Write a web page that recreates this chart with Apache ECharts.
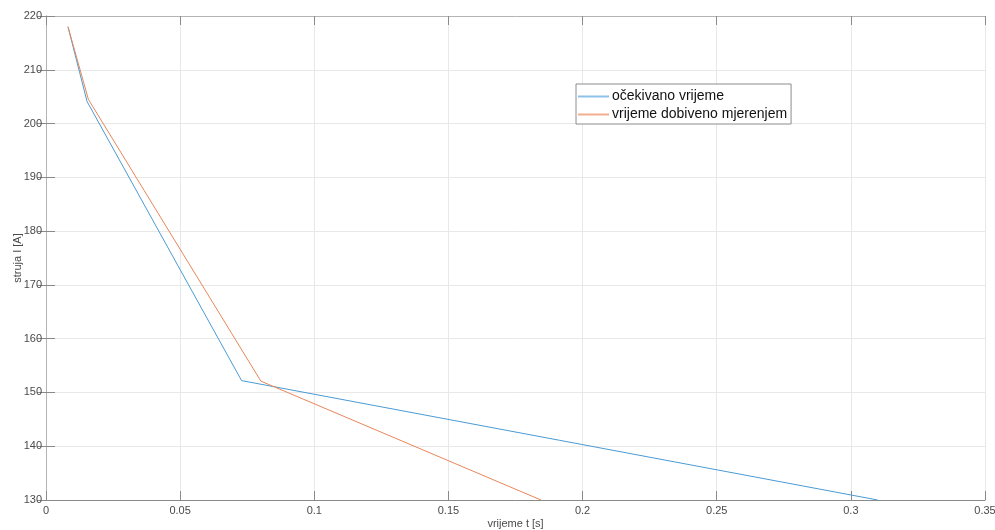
<!DOCTYPE html>
<html>
<head>
<meta charset="utf-8">
<script src="https://cdn.jsdelivr.net/npm/echarts@6/dist/echarts.min.js"></script>
<style>html,body{margin:0;padding:0;background:#fff;}#c{width:995px;height:530px;}</style>
</head>
<body>
<div id="c"></div>
<script>
const seriesNames = ['očekivano vrijeme', 'vrijeme dobiveno mjerenjem'];
const expectedT = [0.0082, 0.0153, 0.0729, 0.3100];
const expectedI = [218, 204.1, 152.2, 130];
const measuredT = [0.0082, 0.0158, 0.0801, 0.1845];
const measuredI = [218, 204.5, 152.1, 130];
const xTicks = [0, 0.05, 0.1, 0.15, 0.2, 0.25, 0.3, 0.35];
const yTicks = [130, 140, 150, 160, 170, 180, 190, 200, 210, 220];

const chart = echarts.init(document.getElementById('c'), null, {renderer: 'canvas'});
const axisCol = '#8a8a8a';
const boxCol = '#b4b4b4';
const labelStyle = {color: '#4a4a4a', fontSize: 11, fontFamily: 'Liberation Sans, Arial, sans-serif'};
function pairs(xs, ys) { return xs.map((x, i) => [x, ys[i]]); }
chart.setOption({
  animation: false,
  backgroundColor: '#fff',
  grid: {left: 46, right: 10, top: 16, bottom: 30, show: false,
         containLabel: false, outerBoundsMode: 'none'},
  legend: {
    left: 576, top: 84, orient: 'vertical',
    backgroundColor: '#fff', borderColor: '#8c8c8c', borderWidth: 1,
    padding: [5, 4, 2, 2], itemGap: 3, itemWidth: 31, itemHeight: 2,
    textStyle: {fontSize: 14, lineHeight: 15, color: '#111', fontFamily: 'Liberation Sans, Arial, sans-serif', padding: [0,0,0,-2]},
    data: seriesNames.map(n => ({name: n, icon: 'rect'}))
  },
  xAxis: [{
    type: 'value', min: xTicks[0], max: xTicks[xTicks.length-1], interval: 0.05,
    name: 'vrijeme t [s]', nameLocation: 'middle', nameGap: 18, nameMoveOverlap: false,
    nameTextStyle: {fontSize: 11, color: '#4a4a4a', fontFamily: 'Liberation Sans, Arial, sans-serif'},
    axisLine: {lineStyle: {color: axisCol}}, axisTick: {inside: true, length: 9, lineStyle: {color: axisCol}},
    axisLabel: Object.assign({margin: 5}, labelStyle),
    splitLine: {show: true, lineStyle: {color: '#e8e8e8'}}
  }, {
    type: 'value', position: 'top', min: xTicks[0], max: xTicks[xTicks.length-1], interval: 0.05,
    axisLine: {lineStyle: {color: boxCol}}, axisTick: {inside: true, length: 9, lineStyle: {color: axisCol}},
    axisLabel: {show: false}, splitLine: {show: false}
  }],
  yAxis: [{
    type: 'value', min: yTicks[0], max: yTicks[yTicks.length-1], interval: 10,
    name: 'struja I [A]', nameLocation: 'middle', nameGap: 23, nameMoveOverlap: false,
    nameTextStyle: {fontSize: 11, color: '#4a4a4a', fontFamily: 'Liberation Sans, Arial, sans-serif'},
    axisLine: {show: true, lineStyle: {color: axisCol}}, axisTick: {show: true, inside: true, length: 9, lineStyle: {color: axisCol}},
    axisLabel: Object.assign({margin: 4}, labelStyle),
    splitLine: {show: true, lineStyle: {color: '#e8e8e8'}}
  }, {
    type: 'value', position: 'right', min: yTicks[0], max: yTicks[yTicks.length-1], interval: 10,
    axisLine: {show: true, lineStyle: {color: boxCol}}, axisTick: {show: true, inside: true, length: 9, lineStyle: {color: axisCol}},
    axisLabel: {show: false}, splitLine: {show: false}
  }],
  series: [{
    name: seriesNames[0], type: 'line', data: pairs(expectedT, expectedI),
    showSymbol: false, symbol: 'none', lineStyle: {color: '#4a9bd4', width: 1}, itemStyle: {color: '#8cc3ea'}, clip: true
  }, {
    name: seriesNames[1], type: 'line', data: pairs(measuredT, measuredI),
    showSymbol: false, symbol: 'none', lineStyle: {color: '#e8865a', width: 1}, itemStyle: {color: '#f2ae8f'}, clip: true
  }]
});
</script>
</body>
</html>
